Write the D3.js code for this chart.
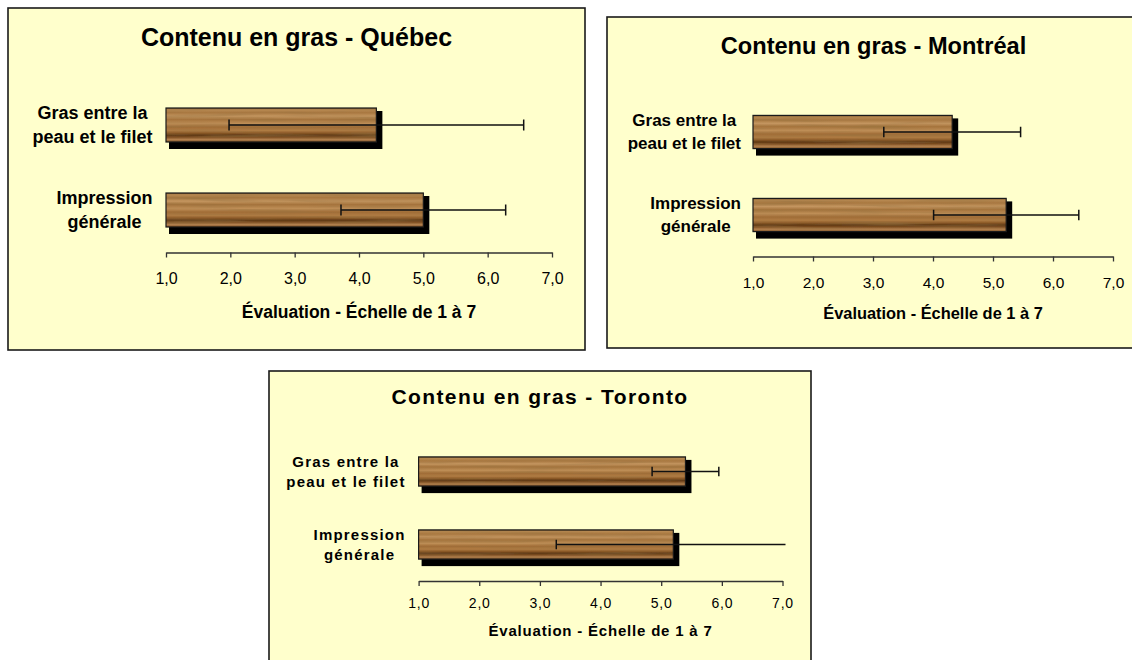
<!DOCTYPE html>
<html lang="fr">
<head>
<meta charset="utf-8">
<title>Contenu en gras</title>
<script src="https://cdn.jsdelivr.net/npm/d3@7"></script>
<style>
  html, body { margin: 0; padding: 0; background: #ffffff; }
  svg { display: block; }
  text { font-family: Arial, "Liberation Sans", sans-serif; fill: #000; }
</style>
</head>
<body>
<svg id="chart" width="1132" height="660"></svg>
<script>
// ---- data ----
const cities = ["Québec", "Montréal", "Toronto"];
const categories = ["Gras entre la peau et le filet", "Impression générale"];
const categoryLines = [["Gras entre la", "peau et le filet"], ["Impression", "générale"]];

// mean score per category (same order as categories)
const meanQuebec   = [4.27, 5.00];
const meanMontreal = [4.32, 5.22];
const meanToronto  = [5.40, 5.20];

// standard deviation shown as error bars
const sdQuebec   = [2.29, 1.28];
const sdMontreal = [1.14, 1.21];
const sdToronto  = [0.55, 1.93];

const tickValues = [1, 2, 3, 4, 5, 6, 7];
const tickLabels = ["1,0", "2,0", "3,0", "4,0", "5,0", "6,0", "7,0"];
const axisTitle = "Évaluation - Échelle de 1 à 7";
const titlePrefix = "Contenu en gras - ";

const means = [meanQuebec, meanMontreal, meanToronto];
const sds = [sdQuebec, sdMontreal, sdToronto];

// ---- layout of the three panels ----
const panels = [
  { box: [8, 8, 585, 350], plotX: [166, 552], plotY: [82.5, 252.5],
    titleY: 37, titleSize: 25, titleSpacing: 0,
    labelSize: 18, labelSpacing: 0, lineGap: 24, labelGap: 13.5,
    tickSize: 16, tickSpacing: 0, tickLabelY: 278,
    axisTitleSize: 17.5, axisTitleSpacing: 0, axisTitleY: 312, capH: 11 },
  { box: [607, 17, 1140, 348], plotX: [753, 1113], plotY: [90.5, 256.5],
    titleY: 46, titleSize: 23.6, titleSpacing: 0,
    labelSize: 17, labelSpacing: 0, lineGap: 23, labelGap: 12,
    tickSize: 15.5, tickSpacing: 0, tickLabelY: 282,
    axisTitleSize: 16.4, axisTitleSpacing: 0, axisTitleY: 313, capH: 10.5 },
  { box: [269, 371, 811, 690], plotX: [418.6, 782.5], plotY: [435, 581],
    titleY: 397, titleSize: 21, titleSpacing: 1.4,
    labelSize: 15, labelSpacing: 1.2, lineGap: 20, labelGap: 13,
    tickSize: 14, tickSpacing: 0.8, tickLabelY: 602.7,
    axisTitleSize: 15, axisTitleSpacing: 0.8, axisTitleY: 631, capH: 9.5 }
];

const svg = d3.select("#chart");
const defs = svg.append("defs");

// wood-like fill for the bars
const grad = defs.append("linearGradient")
  .attr("id", "wood").attr("x1", 0).attr("y1", 0).attr("x2", 0).attr("y2", 1);
[
  [0.00, "#6e4a22"], [0.05, "#b88a52"], [0.14, "#a87740"], [0.24, "#c49660"],
  [0.34, "#a5733c"], [0.46, "#bf8f57"], [0.56, "#a06c36"], [0.66, "#b07c43"],
  [0.74, "#8a5826"], [0.80, "#5e3814"], [0.86, "#7e4e22"], [0.93, "#b58250"],
  [1.00, "#7a4d22"]
].forEach(([o, c]) => grad.append("stop").attr("offset", o).attr("stop-color", c));

const grain = defs.append("filter").attr("id", "grain")
  .attr("x", 0).attr("y", 0).attr("width", 1).attr("height", 1);
grain.append("feTurbulence").attr("type", "fractalNoise")
  .attr("baseFrequency", "0.012 0.32").attr("numOctaves", 3).attr("seed", 7).attr("result", "noise");
grain.append("feColorMatrix").attr("in", "noise").attr("type", "matrix")
  .attr("values", "0 0 0 0 0.30  0 0 0 0 0.17  0 0 0 0 0.05  1.1 0 0 0 -0.45")
  .attr("result", "streaks");
grain.append("feComposite").attr("in", "streaks").attr("in2", "SourceGraphic").attr("operator", "atop");

panels.forEach((p, pi) => {
  const [bx0, by0, bx1, by1] = p.box;
  const g = svg.append("g");

  // panel background and frame
  g.append("rect")
    .attr("x", bx0).attr("y", by0).attr("width", bx1 - bx0).attr("height", by1 - by0)
    .attr("fill", "#ffffcc").attr("stroke", "#1a1a1a").attr("stroke-width", 1.6);

  const x = d3.scaleLinear().domain([1, 7]).range(p.plotX);
  const y = d3.scaleBand().domain(categories).range(p.plotY)
    .paddingInner(0.6).paddingOuter(0.3);

  // title
  g.append("text")
    .attr("x", (bx0 + bx1) / 2).attr("y", p.titleY).attr("dy", "0.35em")
    .attr("text-anchor", "middle")
    .style("font-size", p.titleSize + "px").style("font-weight", "bold")
    .style("letter-spacing", p.titleSpacing + "px")
    .text(titlePrefix + cities[pi]);

  // clip for error bars (plot area)
  const clipId = "clip" + pi;
  defs.append("clipPath").attr("id", clipId).append("rect")
    .attr("x", p.plotX[0] - 2).attr("y", p.plotY[0])
    .attr("width", p.plotX[1] - p.plotX[0] + 5).attr("height", p.plotY[1] - p.plotY[0]);

  const rows = categories.map((c, i) => ({ cat: c, mean: means[pi][i], sd: sds[pi][i] }));

  // bar shadows
  g.selectAll(".shadow").data(rows).join("rect")
    .attr("class", "shadow")
    .attr("x", x(1) + 3)
    .attr("y", d => y(d.cat) + 3)
    .attr("width", d => x(d.mean) - x(1) + 3)
    .attr("height", y.bandwidth() + 4)
    .attr("fill", "#000");

  // bars
  g.selectAll(".bar").data(rows).join("rect")
    .attr("class", "bar")
    .attr("x", x(1))
    .attr("y", d => y(d.cat))
    .attr("width", d => x(d.mean) - x(1))
    .attr("height", y.bandwidth())
    .attr("fill", "url(#wood)")
    .attr("filter", "url(#grain)");
  g.selectAll(".barEdge").data(rows).join("rect")
    .attr("class", "barEdge")
    .attr("x", x(1))
    .attr("y", d => y(d.cat))
    .attr("width", d => x(d.mean) - x(1))
    .attr("height", y.bandwidth())
    .attr("fill", "none").attr("stroke", "#1a1a1a").attr("stroke-width", 1.2);

  // error bars
  const eb = g.append("g").attr("clip-path", `url(#${clipId})`)
    .attr("stroke", "#111").attr("stroke-width", 1.5).attr("fill", "none");
  rows.forEach(d => {
    const cy = y(d.cat) + y.bandwidth() / 2;
    const lo = d.mean - d.sd, hi = d.mean + d.sd;
    eb.append("line").attr("x1", x(lo)).attr("x2", x(hi)).attr("y1", cy).attr("y2", cy);
    [lo, hi].forEach(v => {
      eb.append("line").attr("x1", x(v)).attr("x2", x(v))
        .attr("y1", cy - p.capH / 2).attr("y2", cy + p.capH / 2);
    });
  });

  // category labels (wrapped, centred block, right-aligned to the axis)
  categories.forEach((c, i) => {
    const lines = categoryLines[i];
    const cy = y(c) + y.bandwidth() / 2;
    const tg = g.append("g");
    const texts = lines.map((ln, k) => tg.append("text")
      .attr("y", cy + (k - (lines.length - 1) / 2) * p.lineGap)
      .attr("dy", "0.35em")
      .attr("text-anchor", "middle")
      .style("font-size", p.labelSize + "px").style("font-weight", "bold")
      .style("letter-spacing", p.labelSpacing + "px")
      .text(ln));
    const maxW = d3.max(texts, t => t.node().getComputedTextLength());
    const cx = x(1) - p.labelGap - maxW / 2;
    texts.forEach(t => t.attr("x", cx));
  });

  // x axis
  const tickLen = 5;
  const pad = p.tickLabelY - p.plotY[1] - tickLen - 0.35 * p.tickSize;
  const axis = d3.axisBottom(x)
    .tickValues(tickValues)
    .tickFormat((d, i) => tickLabels[i])
    .tickSizeInner(tickLen).tickSizeOuter(0).tickPadding(pad);
  const ax = g.append("g").attr("transform", `translate(0,${p.plotY[1]})`).call(axis);
  ax.select(".domain").attr("stroke", "#333").attr("stroke-width", 1.3);
  ax.selectAll(".tick line").attr("stroke", "#333").attr("stroke-width", 1.3);
  ax.selectAll(".tick text")
    .style("font-size", p.tickSize + "px")
    .style("font-family", "Arial, 'Liberation Sans', sans-serif")
    .style("letter-spacing", p.tickSpacing + "px")
    .attr("fill", "#000");

  // axis title
  g.append("text")
    .attr("x", (p.plotX[0] + p.plotX[1]) / 2).attr("y", p.axisTitleY).attr("dy", "0.35em")
    .attr("text-anchor", "middle")
    .style("font-size", p.axisTitleSize + "px").style("font-weight", "bold")
    .style("letter-spacing", p.axisTitleSpacing + "px")
    .text(axisTitle);
});
</script>
</body>
</html>
